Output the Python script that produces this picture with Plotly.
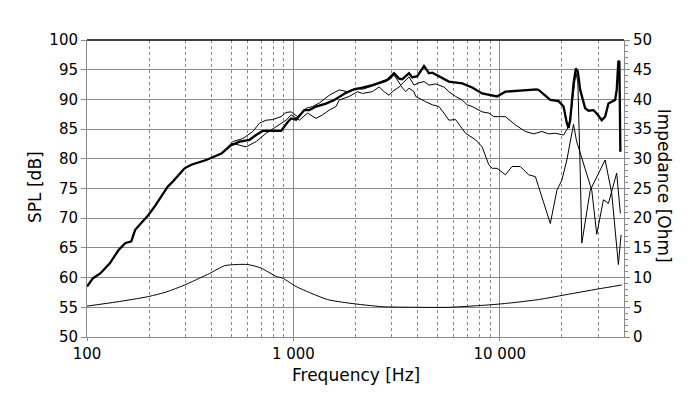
import plotly.graph_objects as go

# ---------------- data ----------------
spl_on_freq = [100, 107, 116, 129, 142, 153, 164, 171, 180, 198, 213, 225, 246, 261, 297, 320, 378, 448,
               500, 549, 613, 660, 711, 794, 872, 939, 975, 1031, 1130, 1195, 1287, 1439, 1578, 1797, 1971,
               2162, 2416, 2603, 2855, 3075, 3251, 3373, 3635, 3771, 3986, 4296, 4456, 4540, 4710, 5074,
               5364, 5670, 6575, 7349, 8215, 9180, 9705, 10650, 12350, 15140, 15430, 17580, 19280, 20380,
               21140, 21540, 21950, 22780, 23370, 23890, 24540, 25940, 26920, 28460, 29850, 31210, 32410,
               33630, 34880, 36220, 36870, 37570, 37990, 38120, 38410]
spl_on_db = [58.5, 59.9, 60.7, 62.4, 64.6, 65.8, 66.1, 68.0, 68.9, 70.5, 72.0, 73.2, 75.3, 76.2, 78.4, 79.0,
             79.8, 80.9, 82.3, 82.9, 83.2, 84.0, 84.7, 84.7, 84.7, 86.2, 86.8, 86.6, 88.2, 88.2, 88.8, 89.3,
             89.9, 91.1, 91.7, 92.0, 92.4, 92.8, 93.3, 94.4, 93.5, 93.4, 94.4, 93.7, 93.9, 95.6, 94.9, 94.4,
             94.5, 93.9, 93.5, 93.0, 92.7, 92.0, 91.0, 90.7, 90.5, 91.3, 91.5, 91.7, 91.6, 89.9, 89.7, 88.8,
             86.0, 85.2, 86.5, 92.7, 95.2, 94.7, 91.6, 88.5, 88.1, 88.2, 87.4, 86.5, 87.1, 89.3, 89.6, 89.9,
             91.6, 96.5, 96.3, 88.8, 81.2]

spl_a_freq = [100, 107, 116, 129, 142, 153, 164, 171, 180, 198, 213, 225, 246, 261, 297, 320, 378, 448,
              509, 569, 636, 685, 738, 794, 872, 922, 975, 1049, 1152, 1240, 1336, 1493, 1669, 1830, 2009,
              2162, 2416, 2603, 2804, 2965, 3075, 3313, 3635, 3841, 4062, 4296, 4540, 4892, 5364, 5670,
              6109, 6575, 6951, 7349, 8215, 8851, 9355, 10650, 11910, 13310, 14600, 16010, 17250, 18580,
              20380, 21540, 22350, 23370, 23890, 24540, 24980, 27440, 32410, 34880, 37570, 38710]
spl_a_db = [58.5, 59.9, 60.7, 62.4, 64.6, 65.8, 66.1, 68.0, 68.9, 70.5, 72.0, 73.2, 75.3, 76.2, 78.4, 79.0,
            79.8, 80.9, 82.9, 83.4, 84.6, 86.0, 86.5, 86.6, 87.1, 87.8, 87.9, 87.1, 88.5, 88.8, 89.4, 90.7,
            91.6, 91.3, 91.9, 91.7, 92.3, 92.7, 93.0, 93.5, 94.1, 92.4, 93.8, 92.4, 92.8, 93.0, 92.4, 92.6,
            92.1, 91.3, 90.5, 89.9, 89.1, 88.8, 87.9, 87.7, 87.1, 87.1, 85.7, 84.6, 84.2, 84.6, 84.2, 84.3,
            84.0, 85.4, 88.8, 94.5, 93.0, 78.0, 65.8, 74.7, 79.8, 74.2, 62.2, 67.2]

spl_b_freq = [100, 107, 116, 129, 142, 153, 164, 171, 180, 198, 213, 225, 246, 261, 297, 320, 378, 448,
              509, 590, 660, 738, 824, 922, 975, 1069, 1172, 1287, 1385, 1493, 1608, 1669, 1864, 2044,
              2162, 2416, 2603, 2752, 2909, 3018, 3313, 3503, 3635, 3841, 3916, 4140, 4377, 4710, 5074,
              5364, 5670, 6109, 6829, 7632, 8215, 8851, 9180, 9705, 10650, 11470, 12590, 13810, 14880,
              15430, 16320, 17250, 17580, 18920, 20000, 21140, 22780, 23550, 27920, 29510, 31800, 33630,
              36870, 38410]
spl_b_db = [58.5, 59.9, 60.7, 62.4, 64.6, 65.8, 66.1, 68.0, 68.9, 70.5, 72.0, 73.2, 75.3, 76.2, 78.4, 79.0,
            79.8, 80.9, 82.6, 82.0, 82.9, 84.3, 85.4, 86.5, 87.4, 86.5, 87.7, 86.8, 87.4, 88.2, 88.8, 89.9,
            90.5, 91.3, 91.0, 91.3, 92.1, 91.3, 90.7, 91.3, 92.3, 91.3, 91.9, 91.3, 90.5, 90.0, 89.6, 89.1,
            88.8, 87.7, 86.5, 86.6, 84.3, 83.2, 82.0, 79.0, 78.4, 78.4, 77.3, 78.7, 78.7, 77.3, 77.0, 75.3,
            72.5, 69.7, 69.1, 74.7, 76.4, 79.8, 85.8, 83.0, 74.7, 67.3, 73.1, 72.5, 77.6, 70.8]

imp_freq = [100, 139, 198, 243, 297, 351, 393, 464, 528, 602, 698, 825, 888, 1031, 1195, 1464, 1864,
            2701, 3916, 5670, 8851, 11050, 15430, 20770, 30080, 38970]
imp_ohm = [5.2, 5.9, 6.8, 7.6, 8.75, 9.9, 10.7, 12.0, 12.2, 12.2, 11.6, 10.2, 9.9, 8.5, 7.5, 6.3, 5.7,
           5.1, 5.0, 5.0, 5.4, 5.7, 6.3, 7.1, 8.1, 8.75]

x_major_ticks = [100, 1000, 10000]
x_major_labels = ["100", "1 000", "10 000"]
x_minor_grid = [200, 300, 400, 500, 600, 700, 800, 900,
                2000, 3000, 4000, 5000, 6000, 7000, 8000, 9000,
                20000, 30000]
spl_ticks = list(range(50, 101, 5))
imp_ticks = list(range(0, 51, 5))

# ---------------- figure ----------------
FONT = "DejaVu Sans"
GRID = "#8a8a8a"

fig = go.Figure()
fig.add_trace(go.Scatter(x=imp_freq, y=imp_ohm, yaxis="y2", mode="lines",
                         line=dict(color="black", width=1, shape="spline", smoothing=0.6),
                         showlegend=False, hoverinfo="skip"))
fig.add_trace(go.Scatter(x=spl_b_freq, y=spl_b_db, mode="lines",
                         line=dict(color="black", width=1), showlegend=False))
fig.add_trace(go.Scatter(x=spl_a_freq, y=spl_a_db, mode="lines",
                         line=dict(color="black", width=1), showlegend=False))
fig.add_trace(go.Scatter(x=spl_on_freq, y=spl_on_db, mode="lines",
                         line=dict(color="black", width=2.3), showlegend=False))

# the page has an 8 px body margin, so the figure is 692x391 and margins are offset by 8 px
fig.update_layout(
    width=692, height=391,
    margin=dict(l=79, r=76, t=32, b=62, autoexpand=False),
    paper_bgcolor="white", plot_bgcolor="white",
    font=dict(family=FONT, size=15, color="black"),
    xaxis=dict(
        type="log", range=[2, 4.60206],
        tickmode="array", tickvals=x_major_ticks, ticktext=x_major_labels,
        showgrid=True, gridcolor=GRID, gridwidth=1,
        ticks="outside", ticklen=3, tickcolor=GRID,
        showline=True, linecolor=GRID, linewidth=1,
        minor=dict(tickmode="array", tickvals=x_minor_grid, showgrid=True,
                   gridcolor=GRID, griddash="3px,3px", gridwidth=1, ticks=""),
        zeroline=False, tickfont=dict(size=15),
    ),
    yaxis=dict(
        range=[50, 100], tickmode="array", tickvals=spl_ticks,
        showgrid=True, gridcolor=GRID, gridwidth=1,
        ticks="outside", ticklen=5, tickcolor=GRID,
        showline=True, linecolor=GRID, linewidth=1,
        zeroline=False, tickfont=dict(size=15),
    ),
    yaxis2=dict(
        range=[0, 50], overlaying="y", side="right",
        tickmode="array", tickvals=imp_ticks, showgrid=False,
        ticks="outside", ticklen=5, tickcolor=GRID,
        minor=dict(dtick=1, ticks="outside", ticklen=3, tickcolor=GRID, showgrid=False),
        showline=True, linecolor=GRID, linewidth=1,
        zeroline=False, tickfont=dict(size=15),
    ),
    shapes=[dict(type="line", xref="paper", yref="paper", x0=0, x1=1, y0=1, y1=1,
                 line=dict(color="black", width=1.5))],
    annotations=[
        dict(text="Frequency [Hz]", xref="paper", yref="paper", x=0.5, y=-0.128,
             xanchor="center", yanchor="middle", showarrow=False, font=dict(size=17)),
        dict(text="SPL [dB]", xref="paper", yref="paper", x=-0.097, y=0.505,
             xanchor="center", yanchor="middle", textangle=-90, showarrow=False, font=dict(size=17)),
        dict(text="Impedance [Ohm]", xref="paper", yref="paper", x=1.076, y=0.51,
             xanchor="center", yanchor="middle", textangle=90, showarrow=False, font=dict(size=17)),
    ],
)

fig.write_html("out.html")
